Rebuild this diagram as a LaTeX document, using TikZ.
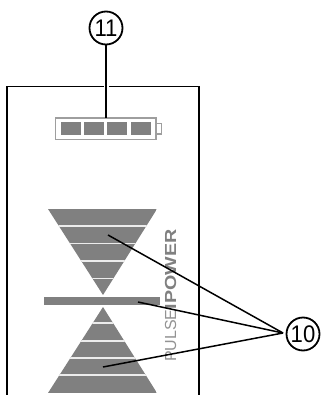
\documentclass[tikz,border=0pt]{standalone}
\usepackage{fontspec}
\usepackage{graphicx}
\setmainfont{Liberation Sans}
\definecolor{panelgray}{gray}{0.5}
\definecolor{battedge}{gray}{0.62}
\tikzset{
  callout/.style={circle,draw=black,line width=1.8pt,minimum size=33pt,inner sep=0pt,font=\fontsize{24}{24}\selectfont,fill=white},
  cell/.style={fill=panelgray,draw=none},
  leader/.style={draw=black,line width=1.5pt},
  stripe/.style={draw=white!85!panelgray,line width=1.1pt}
}
\begin{document}
\begin{tikzpicture}[x=1pt,y=-1pt]
\useasboundingbox (0,0) rectangle (322,395);
\fill[white] (0,0) rectangle (322,395);
% housing
\draw[black,line width=1.3pt] (7,395) -- (7,86.5) -- (199,86.5) -- (199,395);
% battery
\draw[battedge,line width=1.7pt] (55.5,118) rectangle (156,139.5);
\draw[battedge,line width=1.5pt] (156,123.5) -- (161.5,123.5) -- (161.5,134) -- (156,134);
\fill[cell] (61,122) rectangle (81,135);
\fill[cell] (84,122) rectangle (104,135);
\fill[cell] (107,122) rectangle (127,135);
\fill[cell] (131,122) rectangle (151,135);
% upper triangle
\begin{scope}
\clip (48,209) -- (157,209) -- (103,295) -- cycle;
\fill[panelgray] (48,209) rectangle (157,295);
\draw[stripe] (40,226) -- (165,226);
\draw[stripe] (40,243.5) -- (165,243.5);
\draw[stripe] (40,261) -- (165,261);
\draw[stripe] (40,278.5) -- (165,278.5);
\end{scope}
% bar
\fill[panelgray] (44,297) rectangle (160,305);
% lower triangle
\begin{scope}
\clip (103,307) -- (157,393) -- (48,393) -- cycle;
\fill[panelgray] (48,307) rectangle (157,393);
\draw[stripe] (40,323) -- (165,323);
\draw[stripe] (40,341) -- (165,341);
\draw[stripe] (40,358) -- (165,358);
\draw[stripe] (40,375) -- (165,375);
\end{scope}
% brand text
\node[rotate=90,anchor=base west,inner sep=0pt,font=\fontsize{16}{16}\selectfont] (brand) at (176,362) {\textcolor{panelgray!85!white}{PULSE}\textcolor{panelgray}{\scalebox{1.23}[1]{\textbf{IPOWER}}}};
% callouts
\node[callout] (n11) at (106,28) {\scalebox{0.92}[1]{11}};
\node[callout] (n10) at (303,334) {\scalebox{0.92}[1]{10}};
\coordinate (hub) at (283,333);
\coordinate (t1) at (108,235);
\coordinate (t2) at (138,302);
\coordinate (t3) at (103,367);
\coordinate (batt) at (106,118);
\draw[white,line width=5pt] (n11.south |- 0,86.5) ++(0,-1) -- ++(0,2);
\draw[leader,line width=1.9pt] (n11.south) -- (n11.south |- batt);
\draw[leader] (t1) -- (hub);
\draw[leader] (t2) -- (hub);
\draw[leader] (t3) -- (hub);
\end{tikzpicture}
\end{document}
